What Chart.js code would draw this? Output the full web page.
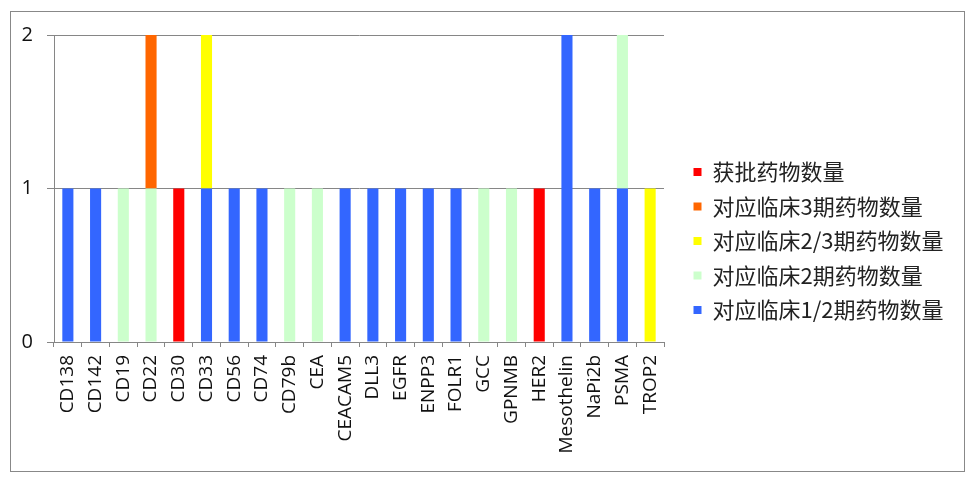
<!DOCTYPE html>
<html>
<head>
<meta charset="utf-8">
<script src="https://cdn.jsdelivr.net/npm/chart.js@4/dist/chart.umd.min.js"></script>
<style>
  html, body { margin: 0; padding: 0; background: #fff; }
  #wrap { position: relative; width: 973px; height: 479px; }
  #frame { position: absolute; left: 10px; top: 11px; width: 953px; height: 459px; border: 1px solid #888; }
  #chart { position: absolute; left: 0; top: 0; }
</style>
</head>
<body>
<div id="wrap">
  <div id="frame"></div>
  <canvas id="chart" width="973" height="479"></canvas>
</div>
<script>
// ---- Data ----
const targets = ['CD138', 'CD142', 'CD19', 'CD22', 'CD30', 'CD33', 'CD56', 'CD74', 'CD79b', 'CEA',
  'CEACAM5', 'DLL3', 'EGFR', 'ENPP3', 'FOLR1', 'GCC', 'GPNMB', 'HER2', 'Mesothelin', 'NaPi2b', 'PSMA', 'TROP2'];

const phase12  = [1, 1, 0, 0, 0, 1, 1, 1, 0, 0, 1, 1, 1, 1, 1, 0, 0, 0, 2, 1, 1, 0];
const phase2   = [0, 0, 1, 1, 0, 0, 0, 0, 1, 1, 0, 0, 0, 0, 0, 1, 1, 0, 0, 0, 1, 0];
const phase23  = [0, 0, 0, 0, 0, 1, 0, 0, 0, 0, 0, 0, 0, 0, 0, 0, 0, 0, 0, 0, 0, 1];
const phase3   = [0, 0, 0, 1, 0, 0, 0, 0, 0, 0, 0, 0, 0, 0, 0, 0, 0, 0, 0, 0, 0, 0];
const approved = [0, 0, 0, 0, 1, 0, 0, 0, 0, 0, 0, 0, 0, 0, 0, 0, 0, 1, 0, 0, 0, 0];

const yTicks = [0, 1, 2];

const gridGray = '#868686';

// legend box is fixed width so the plot area lines up
const fixLegend = {
  id: 'fixLegend',
  afterInit(chart) {
    const lg = chart.legend;
    const fit = lg.fit;
    lg.fit = function () { fit.call(this); this.width = 292; };
  }
};

function ds(label, data, color) {
  return { label, data, backgroundColor: color, borderWidth: 0, xAxisID: 'x', yAxisID: 'y' };
}

new Chart(document.getElementById('chart'), {
  type: 'bar',
  data: {
    labels: targets,
    datasets: [
      ds('对应临床1/2期药物数量', phase12, '#3366FF'),
      ds('对应临床2期药物数量', phase2, '#CCFFCC'),
      ds('对应临床2/3期药物数量', phase23, '#FFFF00'),
      ds('对应临床3期药物数量', phase3, '#FF6600'),
      ds('获批药物数量', approved, '#FF0000')
    ]
  },
  options: {
    responsive: false,
    animation: false,
    barPercentage: 0.4,
    categoryPercentage: 1,
    layout: { padding: { left: 10, top: 6, right: 0, bottom: 3 } },
    plugins: {
      tooltip: { enabled: false },
      legend: {
        position: 'right',
        reverse: true,
        labels: {
          boxWidth: 8,
          boxHeight: 8,
          padding: 12.5,
          color: '#222',
          font: { size: 22, family: 'Noto Sans CJK SC' }
        }
      }
    },
    scales: {
      x: {
        stacked: true,
        grid: { drawOnChartArea: false, tickLength: 5, color: gridGray, offset: true },
        border: { color: gridGray },
        ticks: {
          autoSkip: false,
          minRotation: 90,
          maxRotation: 90,
          padding: 8,
          color: '#111',
          font: { size: 19, family: 'Open Sans' }
        },
        afterFit: s => { s.height = 134; }
      },
      y: {
        stacked: true,
        min: 0,
        max: 2,
        afterBuildTicks: s => { s.ticks = yTicks.map(v => ({ value: v })); },
        grid: { color: gridGray, tickLength: 7 },
        border: { color: gridGray },
        ticks: {
          padding: 14,
          color: '#111',
          font: { size: 20, family: 'Open Sans' }
        },
        afterFit: s => { s.width = 44; }
      },
      xTop: {
        type: 'linear',
        position: 'top',
        grid: { display: false },
        border: { display: false },
        ticks: { display: false },
        afterFit: s => { s.height = 29; }
      },
      yRight: {
        type: 'linear',
        position: 'right',
        grid: { display: false },
        border: { display: false },
        ticks: { display: false },
        afterFit: s => { s.width = 17; }
      }
    }
  },
  plugins: [fixLegend]
});
</script>
</body>
</html>
